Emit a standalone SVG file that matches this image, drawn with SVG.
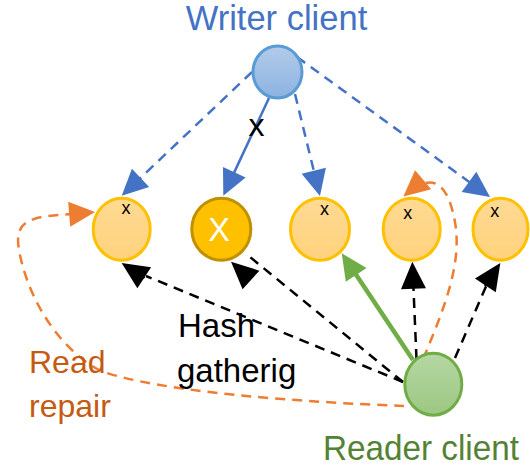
<svg xmlns="http://www.w3.org/2000/svg" width="530" height="468" viewBox="0 0 530 468">
  <style>
    .lbl { font-family: "Liberation Sans", Arial, sans-serif; }
    .conn { fill: none; stroke-linecap: butt; }
    .dash { stroke-width: 2.5; stroke-dasharray: 10 7; }
    .blue { stroke: #4472C4; }
    .orange { stroke: #ED7D31; }
    .black { stroke: #000000; }
    .replica { fill: url(#gOrange); stroke: #FFC000; stroke-width: 3; }
    .mark { font-size: 18px; fill: #000000; text-anchor: middle; }
  </style>
  <defs>
    <linearGradient id="gBlue" x1="0" y1="0" x2="0" y2="1">
      <stop offset="0" stop-color="#B2CBE9"/>
      <stop offset="1" stop-color="#8DB3E2"/>
    </linearGradient>
    <linearGradient id="gOrange" x1="0" y1="0" x2="0" y2="1">
      <stop offset="0" stop-color="#FFDA94"/>
      <stop offset="1" stop-color="#FFD27C"/>
    </linearGradient>
    <linearGradient id="gGreen" x1="0" y1="0" x2="0" y2="1">
      <stop offset="0" stop-color="#B6D7A4"/>
      <stop offset="1" stop-color="#9CC882"/>
    </linearGradient>
    <marker id="ahBlue" markerUnits="userSpaceOnUse" viewBox="0 0 26 25" markerWidth="26" markerHeight="25" refX="22" refY="12.5" orient="auto" overflow="visible">
      <path d="M0,0 L26,12.5 L0,25 z" fill="#4472C4"/>
    </marker>
    <marker id="ahOrange" markerUnits="userSpaceOnUse" viewBox="0 0 26 25" markerWidth="26" markerHeight="25" refX="22" refY="12.5" orient="auto" overflow="visible">
      <path d="M0,0 L26,12.5 L0,25 z" fill="#ED7D31"/>
    </marker>
    <marker id="ahBlack" markerUnits="userSpaceOnUse" viewBox="0 0 27 25" markerWidth="27" markerHeight="25" refX="23" refY="12.5" orient="auto" overflow="visible">
      <path d="M0,0 L27,12.5 L0,25 z" fill="#000000"/>
    </marker>
    <marker id="ahGreen" markerUnits="userSpaceOnUse" viewBox="0 0 26 25" markerWidth="26" markerHeight="25" refX="20" refY="12.5" orient="auto" overflow="visible">
      <path d="M0,0 L26,12.5 L0,25 z" fill="#70AD47"/>
    </marker>
  </defs>

  <!-- connectors -->
  <g id="connectors">
    <!-- writes from the writer client -->
    <path class="conn dash blue" d="M252,72 L124.6,193" marker-end="url(#ahBlue)"/>
    <path class="conn blue" stroke-width="2.5" d="M269,98 L225,192.1" marker-end="url(#ahBlue)"/>
    <path class="conn dash blue" d="M295,94 L319,192.1" marker-end="url(#ahBlue)"/>
    <path class="conn dash blue" d="M297,57 L486.8,194.7" marker-end="url(#ahBlue)"/>
    <!-- read repair from the reader client -->
    <path class="conn dash orange" d="M404,406 C300,402 160,392 101,371 C60,350 28,300 19,250 C15,226 24,220 47,216 L91.1,212.4" marker-end="url(#ahOrange)"/>
    <path class="conn dash orange" d="M423,359 C446,305 462,262 455,222 C449,190 437,168 406.4,194" marker-end="url(#ahOrange)"/>
    <!-- hash gathering -->
    <path class="conn dash black" d="M403,382 L146,276 M144.5,278 L125,265.2" marker-end="url(#ahBlack)"/>
    <path class="conn dash black" d="M403,382 L250,257 M250,279 L234,264.4" marker-end="url(#ahBlack)"/>
    <path class="conn dash black" d="M416.5,359 L412.5,265.7" marker-end="url(#ahBlack)"/>
    <path class="conn dash black" d="M455,358 L487.5,283 M485,286 L498.1,266.3" marker-end="url(#ahBlack)"/>
    <!-- full read -->
    <path class="conn" stroke="#70AD47" stroke-width="4.5" d="M413,360 L345.1,258.3" marker-end="url(#ahGreen)"/>
  </g>

  <!-- writer client -->
  <g id="writer">
    <ellipse cx="277.5" cy="72" rx="24.5" ry="26" fill="url(#gBlue)" stroke="#5B9BD5" stroke-width="3"/>
    <text class="lbl" x="276.5" y="30" font-size="34.5" fill="#4472C4" text-anchor="middle">Writer client</text>
  </g>

  <!-- replicas -->
  <g id="replica1">
    <ellipse class="replica" cx="121.7" cy="229.2" rx="28.5" ry="31"/>
    <text class="lbl mark" x="126" y="214">x</text>
  </g>
  <g id="replica2">
    <ellipse cx="221.3" cy="229.2" rx="29.5" ry="31" fill="#FFC000" stroke="#BF9000" stroke-width="3"/>
    <text class="lbl" x="219" y="240.7" font-size="32.5" fill="#FFFFFF" text-anchor="middle">X</text>
  </g>
  <g id="replica3">
    <ellipse class="replica" cx="320" cy="229.2" rx="29.5" ry="31"/>
    <text class="lbl mark" x="324.6" y="215">x</text>
  </g>
  <g id="replica4">
    <ellipse class="replica" cx="411.7" cy="229.2" rx="28.5" ry="31"/>
    <text class="lbl mark" x="407.7" y="219">x</text>
  </g>
  <g id="replica5">
    <ellipse class="replica" cx="500.5" cy="229.2" rx="27.5" ry="31"/>
    <text class="lbl mark" x="494.7" y="217">x</text>
  </g>

  <!-- reader client -->
  <g id="reader">
    <ellipse cx="433.3" cy="384.2" rx="28.5" ry="31" fill="url(#gGreen)" stroke="#70AD47" stroke-width="3"/>
    <text class="lbl" x="421" y="460" font-size="34.5" fill="#548235" text-anchor="middle" textLength="196" lengthAdjust="spacingAndGlyphs">Reader client</text>
  </g>

  <!-- connector labels -->
  <g id="labels">
    <text class="lbl" x="256.6" y="136" font-size="32" fill="#000000" text-anchor="middle">x</text>
    <text class="lbl" x="178" y="337" font-size="33" fill="#000000">Hash</text>
    <text class="lbl" x="177" y="382" font-size="33" fill="#000000">gatherig</text>
    <text class="lbl" x="29" y="373" font-size="32" fill="#C55A11">Read</text>
    <text class="lbl" x="29" y="417" font-size="32" fill="#C55A11">repair</text>
  </g>
</svg>
